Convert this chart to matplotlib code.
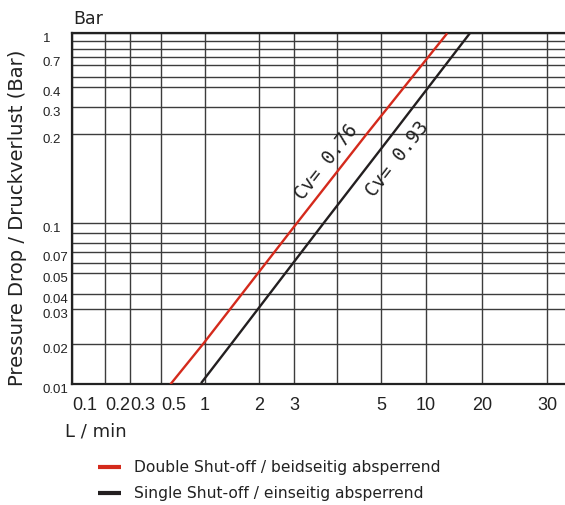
import numpy as np
import matplotlib
matplotlib.use("Agg")
import matplotlib.pyplot as plt
from matplotlib import font_manager

# flow (L/min) vs pressure drop (bar)
flow_double = [0.58, 0.97, 3.06, 4.65, 13.0]
dp_double = [0.01, 0.02, 0.1, 0.2, 1.0]
flow_single = [0.94, 1.40, 3.66, 5.97, 17.2]
dp_single = [0.0102, 0.02, 0.1, 0.2, 1.0]

series_labels = ["Double Shut-off / beidseitig absperrend",
                 "Single Shut-off / einseitig absperrend"]
cv_labels = ["Cv= 0.76", "Cv= 0.93"]

x_major = [0.1, 0.2, 0.3, 0.5, 1, 2, 3, 5, 10, 20, 30]
x_major_labels = ["0.1", "0.2", "0.3", "0.5", "1", "2", "3", "5", "10", "20", "30"]
x_minor = [4]
y_major = [0.01, 0.02, 0.03, 0.04, 0.05, 0.07, 0.1, 0.2, 0.3, 0.4, 0.7, 1.0]
y_major_labels = ["0.01", "0.02", "0.03", "0.04", "0.05", "0.07",
                  "0.1", "0.2", "0.3", "0.4", "0.7", "1"]
y_minor = [0.06, 0.08, 0.09, 0.5, 0.6, 0.8, 0.9]

# the printed chart's grid is hand spaced, not a true log grid:
# anchor values and where they sit along each axis (pixels of the original)
x_anchor_vals = [0.1, 0.2, 0.3, 0.5, 1, 2, 3, 4, 5, 10, 20, 30, 40]
x_anchor_px = [72, 105, 130, 161, 205, 259, 294, 337, 381, 426, 482, 547, 565]
y_anchor_vals = [0.01, 0.02, 0.03, 0.04, 0.05, 0.06, 0.07, 0.08, 0.09, 0.1,
                 0.2, 0.3, 0.4, 0.5, 0.6, 0.7, 0.8, 0.9, 1.0]
y_anchor_px = [384.3, 344, 309.3, 294, 273.3, 263.3, 251.7, 242.5, 233, 223,
               134, 107, 87, 77, 65.3, 56.5, 49, 41, 33.3]

RED = "#d42a1c"
BLACK = "#231f20"
GRID = "#3c3c3c"

names = {f.name for f in font_manager.fontManager.ttflist}
NARROW = "Liberation Sans Narrow" if "Liberation Sans Narrow" in names else "Liberation Sans"


def make_scale(vals, frac):
    lv = np.log10(vals)
    frac = np.asarray(frac, float)

    def fwd(v):
        v = np.asarray(v, float)
        v = np.where(v > 0, v, 1e-12)
        return np.interp(np.log10(v), lv, frac)

    def inv(t):
        return 10 ** np.interp(np.asarray(t, float), frac, lv)
    return fwd, inv


W, H = 565, 505
x0, x1 = x_anchor_px[0], x_anchor_px[-1]
y0, y1 = y_anchor_px[0], y_anchor_px[-1]
x_frac = [(p - x0) / (x1 - x0) for p in x_anchor_px]
y_frac = [(y0 - p) / (y0 - y1) for p in y_anchor_px]

fig = plt.figure(figsize=(W / 100, H / 100), dpi=100)
ax = fig.add_axes([x0 / W, 1 - y0 / H, (x1 - x0) / W, (y0 - y1) / H])

ax.set_xscale("function", functions=make_scale(x_anchor_vals, x_frac))
ax.set_yscale("function", functions=make_scale(y_anchor_vals, y_frac))
ax.set_xlim(x_anchor_vals[0], x_anchor_vals[-1])
ax.set_ylim(y_anchor_vals[0], y_anchor_vals[-1])

l1, = ax.plot(flow_double, dp_double, color=RED, lw=1.7, label=series_labels[0],
              solid_capstyle="butt", zorder=3)
l2, = ax.plot(flow_single, dp_single, color=BLACK, lw=1.7, label=series_labels[1],
              solid_capstyle="butt", zorder=3)

ax.set_xticks(x_major, x_major_labels)
ax.set_xticks(x_minor, minor=True)
ax.set_yticks(y_major, y_major_labels)
ax.set_yticks(y_minor, minor=True)
ax.grid(which="both", color=GRID, lw=1.0)
ax.set_axisbelow(True)
ax.tick_params(which="both", length=0)
ax.tick_params(axis="x", pad=9, labelsize=13, labelcolor="#222222")
ax.tick_params(axis="y", pad=21, labelsize=9.5, labelcolor="#222222")
for i, lab in enumerate(ax.get_xticklabels()):
    lab.set_family(NARROW)
    if i < 4:
        lab.set_ha("left")
for lab in ax.get_yticklabels():
    lab.set_family(NARROW)
    lab.set_ha("left")
    lab.set_va("top")

for side in ("left", "bottom", "top"):
    ax.spines[side].set_linewidth(1.6)
    ax.spines[side].set_color("#222222")
ax.spines["right"].set_visible(False)

# Cv annotations along the curves
ax.text(3.72, 0.161, cv_labels[0], rotation=52, rotation_mode="anchor",
        ha="center", va="center", family="DejaVu Sans Mono", fontsize=13.5,
        color="#222222", zorder=4)
ax.text(6.45, 0.165, cv_labels[1], rotation=52, rotation_mode="anchor",
        ha="center", va="center", family="DejaVu Sans Mono", fontsize=13.5,
        color="#222222", zorder=4)

fig.text(73 / W, 1 - 19.5 / H, "Bar", ha="left", va="center", fontsize=12.5,
         color="#222222")
fig.text(65 / W, 1 - 432 / H, "L / min", ha="left", va="center", fontsize=13,
         color="#222222")
fig.text(17.5 / W, 1 - 218 / H, "Pressure Drop / Druckverlust (Bar)", rotation=90,
         ha="center", va="center", fontsize=14.1, color="#222222")

leg = fig.legend(handles=[l1, l2], loc="upper left",
                 bbox_to_anchor=(98 / W, 1 - 460 / H), frameon=False,
                 fontsize=11.2, handlelength=1.45, handletextpad=0.85,
                 labelspacing=0.72, borderpad=0, borderaxespad=0)
for h in leg.get_lines():
    h.set_linewidth(3)
for t in leg.get_texts():
    t.set_color("#222222")

fig.savefig("out.png", dpi=100)
